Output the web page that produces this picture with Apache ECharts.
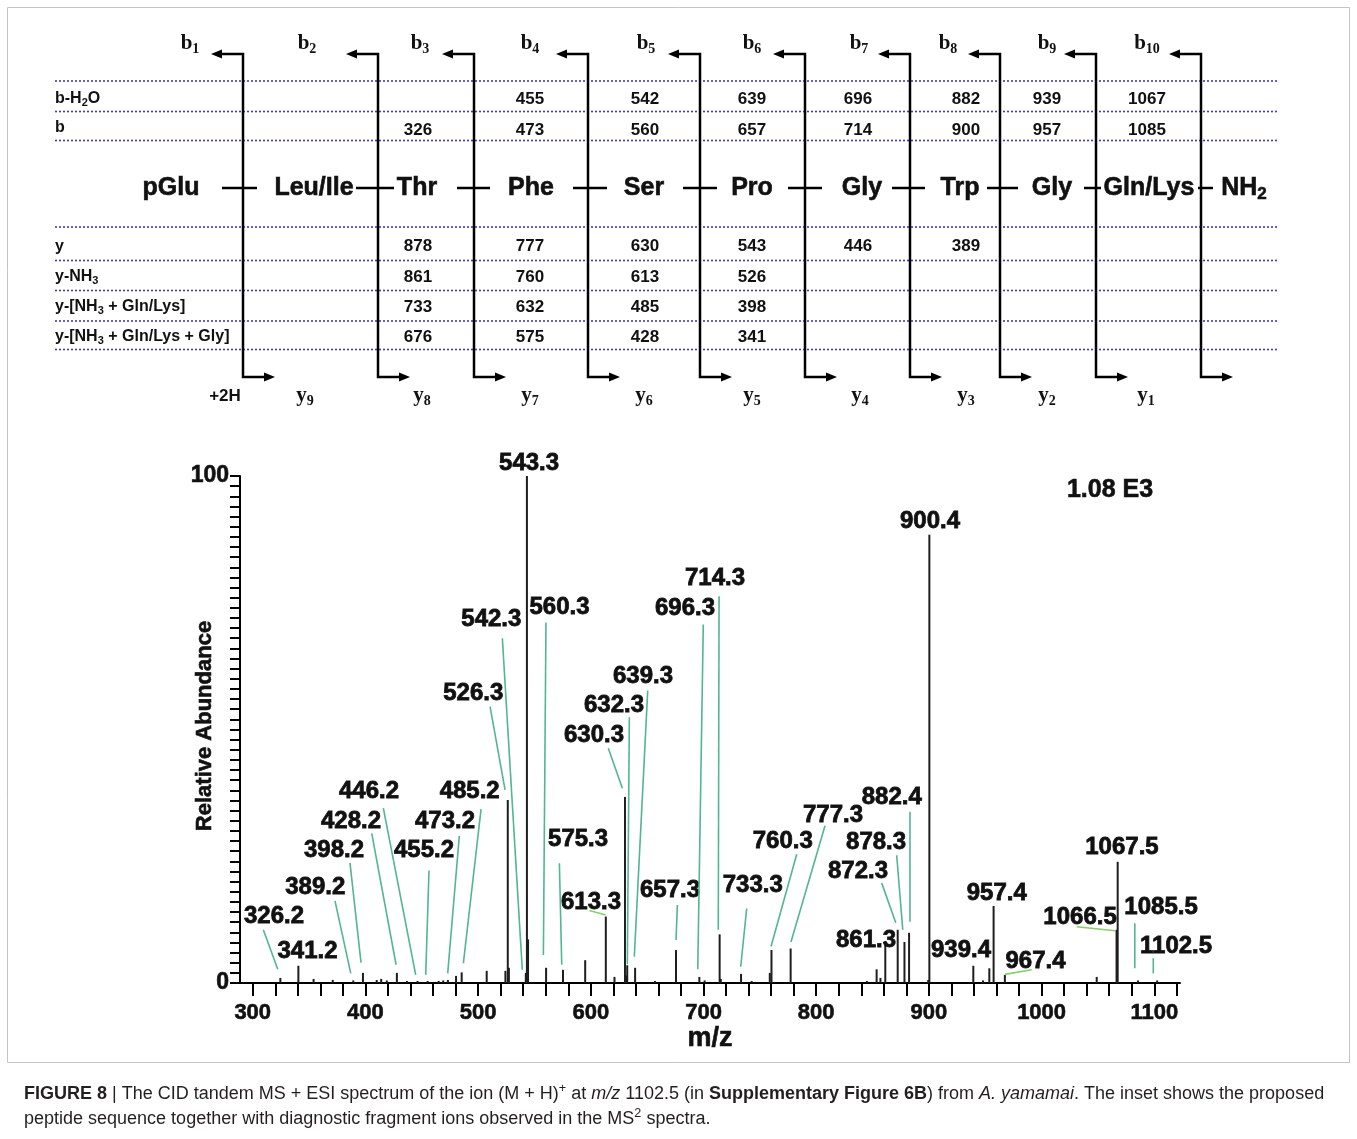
<!DOCTYPE html>
<html><head><meta charset="utf-8">
<script src="https://cdn.jsdelivr.net/npm/echarts@6/dist/echarts.min.js"></script>
<style>html,body{margin:0;padding:0;background:#fff}#c{width:1357px;height:1139px}</style>
</head><body><div id="c"></div>
<script>
// ---------------- DATA ----------------
// spectrum peaks: m/z and relative abundance (%)
const peakMz = [324.5, 340.5, 354, 371, 389.2, 397.8, 410, 414, 419, 427.9, 437, 446.2, 455.2, 465, 469, 473.2, 480.4, 485.4,
  507.6, 524.2, 526.3, 527.3, 542.3, 543.3, 544.3, 560.3, 575.3, 595, 613.3, 621, 630.3, 631.3, 632.3, 639.3, 657,
  675.6, 696.3, 701, 714.3, 715.3, 733.3, 742.7, 758.8, 760.3, 777.3, 845, 853.6, 857, 861.3, 872.3, 878.3, 882.4,
  899.4, 900.4, 939.4, 948, 953.6, 957.4, 967.4, 1048.9, 1066.5, 1067.5, 1085.5, 1102.5];
const peakAbundance = [1.0, 3.4, 0.8, 0.6, 0.5, 2.0, 0.6, 0.8, 0.5, 2.0, 0.4, 0.4, 0.4, 0.4, 0.5, 0.6, 1.4, 2.1,
  2.4, 2.4, 36.1, 3.0, 2.0, 100, 8.6, 3.0, 2.6, 4.5, 13.1, 1.2, 36.7, 1.5, 3.5, 3.0, 0.4,
  6.5, 1.2, 0.5, 9.6, 0.8, 1.8, 0.4, 2.0, 6.5, 6.8, 0.4, 2.7, 1.0, 8.3, 10.5, 8.1, 9.9,
  0.6, 88.4, 3.4, 0.5, 2.9, 15.2, 1.6, 1.2, 10.5, 23.9, 0.5, 0.5];
// annotated peak values (m/z)
const labelledMz = [326.2, 341.2, 389.2, 398.2, 428.2, 446.2, 455.2, 473.2, 485.2, 526.3, 542.3, 543.3, 560.3, 575.3,
  613.3, 630.3, 632.3, 639.3, 657.3, 696.3, 714.3, 733.3, 760.3, 777.3, 861.3, 872.3, 878.3, 882.4, 900.4, 939.4,
  957.4, 967.4, 1066.5, 1067.5, 1085.5, 1102.5];
const xTickLabels = [300, 400, 500, 600, 700, 800, 900, 1000, 1100];
const yTickLabels = [0, 100];
const totalIonText = '1.08 E3';

// inset: peptide sequence and fragment ion table
const residues = ['pGlu', 'Leu/Ile', 'Thr', 'Phe', 'Ser', 'Pro', 'Gly', 'Trp', 'Gly', 'Gln/Lys', 'NH2'];
const bIonIndex = [1, 2, 3, 4, 5, 6, 7, 8, 9, 10];
const yIonIndex = [null, 9, 8, 7, 6, 5, 4, 3, 2, 1];
const rowNames = ['b-H2O', 'b', 'y', 'y-NH3', 'y-[NH3 + Gln/Lys]', 'y-[NH3 + Gln/Lys + Gly]'];
const ionBminusH2O = [null, null, null, 455, 542, 639, 696, 882, 939, 1067];
const ionB = [null, null, 326, 473, 560, 657, 714, 900, 957, 1085];
const ionY = [null, null, 878, 777, 630, 543, 446, 389, null, null];
const ionYminusNH3 = [null, null, 861, 760, 613, 526, null, null, null, null];
const ionYminusNH3GlnLys = [null, null, 733, 632, 485, 398, null, null, null, null];
const ionYminusNH3GlnLysGly = [null, null, 676, 575, 428, 341, null, null, null, null];

// ---------------- LAYOUT (positions only) ----------------
const SANS = '"Liberation Sans", Arial, sans-serif';
const SERIF = '"Liberation Serif", "Times New Roman", serif';
// annotation label centres and leader lines, in axis units (m/z, %)
const labelPos = [[318.9,13.1],[348.6,6.2],[355.5,18.8],[372.1,26.2],[387.2,31.8],[403.2,37.7],[452.0,26.1],[470.6,31.8],
  [492.5,37.7],[495.7,57.1],[511.7,71.8],[545.2,102.5],[572.2,74.0],[588.7,28.4],[600.2,16.0],[602.8,48.9],[620.6,54.8],
  [646.3,60.4],[670.3,18.3],[683.6,73.9],[710.2,79.8],[743.7,19.3],[770.3,27.9],[814.9,33.1],[844.2,8.5],[837.1,22.1],
  [853.1,27.8],[867.0,36.7],[901.0,91.0],[928.5,6.5],[960.2,17.7],[994.6,4.2],[1034.1,12.9],[1071.3,26.7],[1106.0,15.0],[1119.3,7.3]];
const leaderPos = [[309.4,10.5,322.2,2.7],null,[373.0,16.2,387.0,1.9],[386.3,23.7,396.1,4.0],[405.6,29.5,427.2,3.6],
  [415.9,34.5,444.6,1.6],[456.4,22.2,453.5,1.6],[483.3,29.0,473.0,1.9],[502.6,34.3,486.9,3.9],[510.6,54.5,523.9,38.1],
  [521.5,68.0,539.2,2.6],null,[560.2,71.1,557.9,5.5],[572.1,23.6,574.2,3.6],[598.7,14.3,613.2,13.4],[615.5,46.3,628.0,38.4],
  [634.2,52.4,632.4,3.7],[650.5,57.7,638.6,5.2],[676.8,15.4,675.6,8.5],[699.8,70.7,694.9,2.7],[713.8,76.3,713.1,10.5],
  [738.3,14.7,733.0,3.2],[782.7,25.4,759.9,7.2],[807.8,31.0,777.6,8.1],null,[858.1,19.7,870.6,11.9],[871.4,25.2,876.8,10.5],
  [883.2,33.8,883.2,12.1],null,null,null,[967.5,1.7,991.2,2.6],[1031.1,11.1,1065.1,10.3],null,[1082.7,11.8,1082.7,2.9],[1099.1,4.9,1099.1,1.9]];
const leaderLight = [14, 31, 32];
// inset layout in page pixels (the inset grid maps 1:1)
const colX = [190, 308, 418, 530, 645, 752, 858, 966, 1047, 1147];
const rowY = [99, 130, 246.5, 277, 307.5, 337.5];
const rowLabelY = [99, 128, 246.5, 276.5, 306.5, 337];
const rowLineY = [81, 111.5, 140.5, 227, 260.5, 290.5, 321, 349.5];
const cleaveX = [243, 378, 474, 588, 700, 805, 910, 1000, 1096, 1201];
const bLabelX = [190, 307, 420, 530, 646, 752, 859, 948, 1047, 1147];
const yLabelX = [225, 305, 422, 530, 644, 752, 860, 966, 1047, 1146];
const residueX = [171, 314, 417, 531, 644, 752, 862, 960, 1052, 1149, 1244];
const dashX = [[222,257],[356,394],[457,490],[573,607],[683,717],[788,822],[892,925],[987,1018],[1084,1101],[1198,1213]];

// ---------------- helpers ----------------
const mctx = document.createElement('canvas').getContext('2d');
function tw(t, font) { mctx.font = font; return mctx.measureText(t).width; }
// segs: [text, font, dy]
function segText(x, y, segs, align, fill, heavy) {
  const w = segs.map(s => tw(s[0], s[1]));
  const total = w.reduce((a, b) => a + b, 0);
  let cx = align === 'center' ? x - total / 2 : (align === 'right' ? x - total : x);
  return segs.map((s, i) => {
    const st = { text: s[0], font: s[1], fill: fill || '#111', align: 'left', verticalAlign: 'middle' };
    if (heavy) { st.stroke = fill || '#111'; st.lineWidth = heavy; }
    const el = { type: 'text', x: cx, y: y + (s[2] || 0), style: st };
    cx += w[i];
    return el;
  });
}
function subSegs(str, big, small, dy) {
  const out = [];
  str.split(/(\d)/).forEach(p => { if (!p) return; out.push(/^\d$/.test(p) ? [p, small, dy] : [p, big, 0]); });
  return out;
}

const schemeItems = [];
bIonIndex.forEach((n, i) => schemeItems.push({ x: bLabelX[i], y: 44, align: 'center', heavy: 0,
  segs: [['b', 'bold 21px ' + SERIF, 0], [String(n), 'bold 14px ' + SERIF, 5]] }));
yIonIndex.forEach((n, i) => schemeItems.push({ x: yLabelX[i], y: 396, align: 'center', heavy: 0,
  segs: n === null ? [['+2H', 'bold 17px ' + SANS, 0]] : [['y', 'bold 21px ' + SERIF, 0], [String(n), 'bold 14px ' + SERIF, 5]] }));
residues.forEach((r, i) => schemeItems.push({ x: residueX[i], y: 188, align: 'center', heavy: 0.6,
  segs: r === 'NH2' ? [['NH', 'bold 25px ' + SANS, 0], ['2', 'bold 17px ' + SANS, 6]] : [[r, 'bold 25px ' + SANS, 0]] }));
rowNames.forEach((r, i) => schemeItems.push({ x: 55, y: rowLabelY[i], align: 'left', heavy: 0,
  segs: subSegs(r, 'bold 16px ' + SANS, 'bold 11px ' + SANS, 4) }));

const ionRows = [ionBminusH2O, ionB, ionY, ionYminusNH3, ionYminusNH3GlnLys, ionYminusNH3GlnLysGly];
const ionCells = [];
ionRows.forEach((row, r) => row.forEach((v, c) => { if (v !== null) ionCells.push([colX[c], rowY[r], v]); }));

const xMinorTicks = [];
for (let v = 300; v <= 1120; v += 20) xMinorTicks.push(v);
const yMinorTicks = [];
for (let v = 0; v <= 100; v += 2) yMinorTicks.push(v);

const capSegs1 = fs => [['FIGURE 8', 'bold ' + fs + 'px ' + SANS, 0], [' | ', fs + 'px ' + SANS, 0],
  ['The CID tandem MS + ESI spectrum of the ion (M + H)', fs + 'px ' + SANS, 0], ['+', (fs * 0.7) + 'px ' + SANS, -5],
  [' at ', fs + 'px ' + SANS, 0], ['m/z', 'italic ' + fs + 'px ' + SANS, 0], [' 1102.5 (in ', fs + 'px ' + SANS, 0],
  ['Supplementary Figure 6B', 'bold ' + fs + 'px ' + SANS, 0], [') from ', fs + 'px ' + SANS, 0],
  ['A. yamamai', 'italic ' + fs + 'px ' + SANS, 0], ['. The inset shows the proposed', fs + 'px ' + SANS, 0]];
const capSegs2 = fs => [['peptide sequence together with diagnostic fragment ions observed in the MS', fs + 'px ' + SANS, 0],
  ['2', (fs * 0.7) + 'px ' + SANS, -5], [' spectra.', fs + 'px ' + SANS, 0]];
const w16 = capSegs1(16).reduce((a, s) => a + tw(s[0], s[1]), 0);
const capFs = Math.max(14, Math.min(18, 16 * 1316 / w16));

const boldText = { fontWeight: 'bold', color: '#111', fontFamily: SANS, textBorderColor: '#111', textBorderWidth: 0.6 };

const chart = echarts.init(document.getElementById('c'));
const option = {
  backgroundColor: '#fff',
  animation: false,
  grid: [
    { left: 240, top: 476, width: 940, height: 507 },
    { left: 0, top: 0, width: 1357, height: 1139 }
  ],
  xAxis: [
    { gridIndex: 0, type: 'value', min: 288.7, max: 1122.8,
      axisLine: { lineStyle: { color: '#000', width: 2 } },
      axisTick: { customValues: xMinorTicks, length: 13, lineStyle: { color: '#000', width: 2 } },
      axisLabel: Object.assign({ customValues: xTickLabels, fontSize: 22, margin: 19, formatter: v => String(v) }, boldText),
      splitLine: { show: false },
      name: 'm/z', nameLocation: 'middle', nameGap: 42,
      nameTextStyle: Object.assign({ fontSize: 27 }, boldText) },
    { gridIndex: 1, type: 'value', min: 0, max: 1357, show: false }
  ],
  yAxis: [
    { gridIndex: 0, type: 'value', min: 0, max: 100,
      axisLine: { show: true, lineStyle: { color: '#000', width: 2 } },
      axisTick: { show: true, customValues: yMinorTicks, length: 10, lineStyle: { color: '#000', width: 2 } },
      axisLabel: Object.assign({ customValues: yTickLabels, fontSize: 23, margin: 11, formatter: v => String(v) }, boldText),
      splitLine: { show: false } },
    { gridIndex: 1, type: 'value', min: 0, max: 1139, inverse: true, show: false }
  ],
  graphic: [
    { type: 'rect', shape: { x: 7.5, y: 7.5, width: 1342, height: 1055 }, style: { fill: 'none', stroke: '#c4c4c4', lineWidth: 1 }, z: 0 },
    { type: 'text', x: 1110, y: 490, style: { text: totalIonText, font: 'bold 25px ' + SANS, fill: '#111', stroke: '#111', lineWidth: 0.6, align: 'center', verticalAlign: 'middle' } },
    { type: 'text', x: 205, y: 726, rotation: Math.PI / 2,
      style: { text: 'Relative Abundance', font: 'bold 22px ' + SANS, fill: '#111', stroke: '#111', lineWidth: 0.6, align: 'center', verticalAlign: 'middle' } },
    { type: 'group', children: segText(24, 1094, capSegs1(capFs), 'left', '#231f20').concat(segText(24, 1119, capSegs2(capFs), 'left', '#231f20')) }
  ],
  series: [
    { // spectrum sticks
      type: 'custom', xAxisIndex: 0, yAxisIndex: 0, clip: false, z: 3,
      data: peakMz.map((m, i) => [m, peakAbundance[i]]),
      renderItem: (params, api) => {
        const p0 = api.coord([api.value(0), 0]);
        const p1 = api.coord([api.value(0), api.value(1)]);
        return { type: 'rect', shape: { x: p0[0] - 1, y: p1[1], width: 2, height: p0[1] - p1[1] }, style: { fill: '#1e1e1e' } };
      }
    },
    { // peak annotations with leader lines
      type: 'custom', xAxisIndex: 0, yAxisIndex: 0, clip: false, z: 4,
      data: labelledMz.map((m, i) => [labelPos[i][0], labelPos[i][1], m]),
      renderItem: (params, api) => {
        const i = params.dataIndex;
        const c = api.coord([api.value(0), api.value(1)]);
        const children = [{ type: 'text', x: c[0], y: c[1],
          style: { text: api.value(2).toFixed(1), font: 'bold 24px ' + SANS, fill: '#111', stroke: '#111', lineWidth: 0.8, align: 'center', verticalAlign: 'middle' } }];
        const L = leaderPos[i];
        if (L) {
          const a = api.coord([L[0], L[1]]), b = api.coord([L[2], L[3]]);
          children.push({ type: 'line', shape: { x1: a[0], y1: a[1], x2: b[0], y2: b[1] },
            style: { stroke: leaderLight.includes(i) ? '#86cf6a' : '#52b596', lineWidth: 1.6 } });
        }
        return { type: 'group', children };
      }
    },
    { // inset dotted row separators
      type: 'custom', xAxisIndex: 1, yAxisIndex: 1, clip: false, z: 2,
      data: rowLineY.map(y => [55, y, 1278]),
      renderItem: (params, api) => {
        const a = api.coord([api.value(0), api.value(1)]), b = api.coord([api.value(2), api.value(1)]);
        return { type: 'line', shape: { x1: a[0], y1: a[1], x2: b[0], y2: b[1] },
          style: { stroke: '#4d35c4', lineWidth: 1.6, lineDash: [2, 2] } };
      }
    },
    { // inset cleavage brackets
      type: 'custom', xAxisIndex: 1, yAxisIndex: 1, clip: false, z: 5,
      data: cleaveX.map((x, i) => [x, 54, 377, dashX[i][0], dashX[i][1], 188]),
      renderItem: (params, api) => {
        const x = api.value(0), yt = api.value(1), yb = api.value(2);
        const P = (px, py) => api.coord([px, py]);
        const st = { stroke: '#000', lineWidth: 2.5, fill: 'none' };
        return { type: 'group', children: [
          { type: 'polyline', shape: { points: [P(x - 22, yt), P(x, yt), P(x, yb), P(x + 22, yb)] }, style: st },
          { type: 'polygon', shape: { points: [P(x - 32, yt), P(x - 21, yt - 4.5), P(x - 21, yt + 4.5)] }, style: { fill: '#000' } },
          { type: 'polygon', shape: { points: [P(x + 32, yb), P(x + 21, yb - 4.5), P(x + 21, yb + 4.5)] }, style: { fill: '#000' } },
          { type: 'line', shape: { x1: P(api.value(3), 0)[0], y1: P(0, api.value(5))[1], x2: P(api.value(4), 0)[0], y2: P(0, api.value(5))[1] }, style: { stroke: '#000', lineWidth: 2.5 } }
        ] };
      }
    },
    { // inset labels (ions, residues, row names)
      type: 'custom', xAxisIndex: 1, yAxisIndex: 1, clip: false, z: 6,
      data: schemeItems.map(it => [it.x, it.y]),
      renderItem: (params, api) => {
        const it = schemeItems[params.dataIndex];
        const c = api.coord([api.value(0), api.value(1)]);
        return { type: 'group', children: segText(c[0], c[1], it.segs, it.align, '#111', it.heavy) };
      }
    },
    { // inset fragment ion m/z table
      type: 'custom', xAxisIndex: 1, yAxisIndex: 1, clip: false, z: 6,
      data: ionCells,
      renderItem: (params, api) => {
        const c = api.coord([api.value(0), api.value(1)]);
        return { type: 'text', x: c[0], y: c[1],
          style: { text: String(api.value(2)), font: 'bold 17px ' + SANS, fill: '#111', align: 'center', verticalAlign: 'middle' } };
      }
    }
  ]
};
chart.setOption(option);
</script></body></html>
